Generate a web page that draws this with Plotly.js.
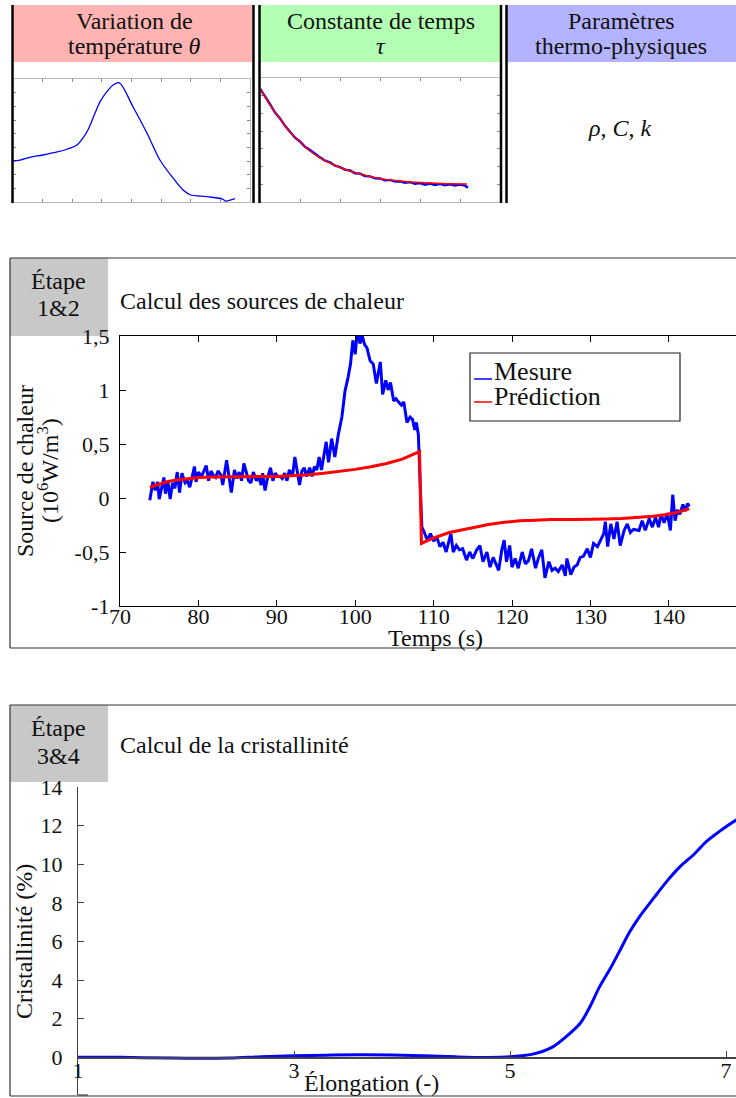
<!DOCTYPE html>
<html>
<head>
<meta charset="utf-8">
<script src="https://cdn.plot.ly/plotly-3.0.1.min.js"></script>
<style>html,body{margin:0;padding:0;background:#fff;}</style>
</head>
<body>
<div id="chart" style="width:736px;height:1098px;"></div>
<script>
// ---------- Data ----------
// Panel 1 : variation de température (unités de graduation)
const p1X = [0, 0.24, 0.57, 1.01, 1.49, 1.82, 2.16, 2.36, 2.53, 2.77, 2.94, 3.17, 3.38, 3.58, 4.05, 4.52, 4.96, 5.40, 5.74, 5.98, 6.55, 7.09, 7.16, 7.49];
const p1Y = [3.02, 3.07, 3.27, 3.44, 3.66, 3.86, 4.17, 4.68, 5.27, 6.51, 7.34, 8.07, 8.56, 8.73, 6.97, 5.05, 3.07, 1.76, 0.88, 0.53, 0.39, 0.20, 0.07, 0.24];

// Panel 2 : constante de temps
const p2MesX = [0.0,0.125,0.25,0.375,0.5,0.625,0.75,0.875,1.0,1.125,1.25,1.375,1.5,1.625,1.75,1.875,2.0,2.125,2.25,2.375,2.5,2.625,2.75,2.875,3.0,3.125,3.25,3.375,3.5,3.625,3.75,3.875,4.0,4.125,4.25,4.375,4.5,4.625,4.75,4.875,5.0,5.125,5.2];
const p2MesY = [6.40,5.98,5.52,5.05,4.72,4.30,3.99,3.63,3.42,3.12,2.93,2.70,2.52,2.33,2.24,2.05,1.97,1.83,1.78,1.62,1.60,1.47,1.45,1.34,1.33,1.22,1.25,1.15,1.17,1.08,1.12,1.03,1.07,0.98,1.04,0.96,1.02,0.95,1.00,0.93,0.98,0.92,0.80];
const p2FitX = [0.025,0.25,0.5,0.75,1.0,1.25,1.5,1.75,2.0,2.25,2.5,2.75,3.0,3.25,3.5,3.75,4.0,4.25,4.5,4.75,5.175];
const p2FitY = [6.33,5.48,4.69,3.95,3.39,2.88,2.49,2.20,1.95,1.75,1.58,1.44,1.33,1.24,1.19,1.13,1.10,1.07,1.05,1.03,1.02];

// Étape 1&2 : sources de chaleur
const tempsMesure = [73.8,74.2,74.5,74.8,75.0,75.3,75.6,75.8,76.1,76.4,76.7,77.0,77.3,77.6,77.9,78.3,78.6,78.9,79.2,79.5,79.7,80.0,80.4,80.7,81.0,81.3,81.6,81.9,82.2,82.5,82.9,83.1,83.4,83.6,83.9,84.2,84.6,84.9,85.2,85.5,85.8,86.2,86.4,86.7,87.0,87.4,87.7,88.0,88.2,88.5,88.8,89.2,89.5,89.8,90.1,90.4,90.7,91.0,91.3,91.6,92.0,92.3,92.6,92.9,93.2,93.5,93.8,94.2,94.5,94.8,95.1,95.4,95.7,96.0,96.3,96.6,97.0,97.4,97.85,98.3,98.7,99.1,99.4,99.7,100.0,100.2,100.4,100.6,100.9,101.2,101.5,101.9,102.3,102.7,103.2,103.5,103.9,104.2,104.5,104.9,105.2,105.5,105.9,106.2,106.6,107.0,107.3,107.6,107.8,108.05,108.3,108.5,108.7,108.9,109.2,109.6,110.0,110.4,110.8,111.2,111.6,112.2,112.5,112.9,113.3,113.7,114.2,114.6,115.0,115.5,115.9,116.3,116.8,117.2,117.6,118.3,118.7,119.0,119.3,119.7,120.0,120.4,120.8,121.3,121.7,122.1,122.5,123.0,123.4,123.8,124.2,124.7,125.1,125.5,125.9,126.4,126.8,127.0,127.5,127.9,128.3,128.7,129.1,129.6,130.0,130.4,130.9,131.3,131.7,131.9,132.2,132.6,133.0,133.4,133.8,134.3,134.7,135.1,135.5,136.2,136.6,137.0,137.5,137.9,138.3,138.7,139.0,139.4,139.8,140.2,140.5,140.8,141.1,141.4,141.8,142.1,142.4,142.6];
const sourceMesure = [-0.02,0.15,0.07,0.15,-0.01,0.09,0.19,0.04,0.15,-0.01,0.14,0.09,0.24,0.05,0.23,0.14,0.16,0.10,0.20,0.29,0.15,0.24,0.20,0.26,0.30,0.16,0.25,0.21,0.19,0.25,0.21,0.12,0.25,0.35,0.20,0.05,0.26,0.18,0.24,0.16,0.32,0.20,0.16,0.14,0.24,0.16,0.20,0.12,0.23,0.07,0.18,0.28,0.16,0.23,0.20,0.20,0.18,0.23,0.16,0.26,0.20,0.38,0.25,0.12,0.25,0.28,0.20,0.28,0.20,0.29,0.26,0.38,0.26,0.38,0.52,0.33,0.55,0.38,0.59,0.75,0.99,1.12,1.24,1.46,1.33,1.49,1.55,1.43,1.50,1.42,1.39,1.27,1.24,1.06,1.26,0.96,1.09,1.00,1.07,0.90,0.92,0.89,0.86,0.89,0.70,0.75,0.73,0.63,0.70,0.59,0.16,-0.27,-0.30,-0.33,-0.39,-0.33,-0.40,-0.36,-0.45,-0.41,-0.50,-0.33,-0.50,-0.44,-0.48,-0.47,-0.575,-0.50,-0.56,-0.48,-0.44,-0.59,-0.50,-0.64,-0.55,-0.67,-0.48,-0.39,-0.59,-0.44,-0.64,-0.56,-0.65,-0.50,-0.61,-0.58,-0.47,-0.65,-0.55,-0.48,-0.74,-0.59,-0.67,-0.65,-0.68,-0.62,-0.72,-0.56,-0.71,-0.64,-0.62,-0.55,-0.54,-0.47,-0.55,-0.42,-0.45,-0.39,-0.33,-0.22,-0.45,-0.24,-0.38,-0.22,-0.44,-0.30,-0.24,-0.32,-0.29,-0.30,-0.21,-0.30,-0.19,-0.27,-0.18,-0.27,-0.15,-0.23,-0.14,-0.30,0.03,-0.21,-0.11,-0.15,-0.06,-0.12,-0.05,-0.08];
const tempsPrediction = [73.8,75,76,77,78,80,82,85,88,90,92,94,96,98,100,102,104,106,107,108,108.2,108.45,110,112,113.3,115,117,119,121,123,125,128,130,132,134,136,138,139.5,141,142.6];
const sourcePrediction = [0.10,0.13,0.15,0.165,0.175,0.19,0.195,0.20,0.20,0.20,0.205,0.215,0.23,0.245,0.265,0.29,0.32,0.36,0.39,0.425,0.43,-0.42,-0.37,-0.32,-0.30,-0.27,-0.245,-0.225,-0.21,-0.205,-0.20,-0.20,-0.20,-0.195,-0.19,-0.18,-0.17,-0.155,-0.135,-0.10];
const tempsTicks = [70,80,90,100,110,120,130,140];
const sourceTicks = [-1,-0.5,0,0.5,1,1.5];
const sourceTickText = ['-1','-0,5','0','0,5','1','1,5'];

// Étape 3&4 : cristallinité
const elongation = [1.0,1.3,1.6,2.0,2.4,2.7,3.0,3.3,3.6,3.9,4.2,4.5,4.8,5.0,5.1,5.2,5.3,5.4,5.52,5.65,5.74,5.83,5.93,6.02,6.11,6.20,6.33,6.45,6.57,6.70,6.82,6.94,7.09,7.15];
const cristallinite = [0.0,0.0,-0.02,-0.05,-0.04,0.03,0.08,0.11,0.13,0.12,0.08,0.02,-0.01,0.02,0.08,0.15,0.3,0.55,1.07,1.76,2.62,3.66,4.61,5.56,6.51,7.29,8.24,9.10,9.85,10.49,11.18,11.70,12.27,12.45];
const elongTicks = [1,3,5,7];
const cristTicks = [0,2,4,6,8,10,12,14];

// ---------- Layout helpers ----------
const W = 736, H = 1098;
const PX = v => v / W;
const PY = v => 1 - v / H;
const FONT = '"Liberation Serif", "Times New Roman", "DejaVu Serif", serif';
const TXT = '#111';

const traces = [
  {x: p1X, y: p1Y, xaxis: 'x', yaxis: 'y', mode: 'lines', line: {color: '#0000ff', width: 1.3, shape: 'spline'}, showlegend: false},
  {x: p2MesX, y: p2MesY, xaxis: 'x2', yaxis: 'y2', mode: 'lines', line: {color: '#0000ff', width: 2.4}, showlegend: false},
  {x: p2FitX, y: p2FitY, xaxis: 'x2', yaxis: 'y2', mode: 'lines', line: {color: '#ff0000', width: 1.5, shape: 'spline'}, showlegend: false},
  {x: tempsMesure, y: sourceMesure, xaxis: 'x3', yaxis: 'y3', mode: 'lines', name: 'Mesure', line: {color: '#0000ff', width: 3}, showlegend: false},
  {x: tempsPrediction, y: sourcePrediction, xaxis: 'x3', yaxis: 'y3', mode: 'lines', name: 'Prédiction', line: {color: '#ff0000', width: 3}, showlegend: false},
  {x: elongation, y: cristallinite, xaxis: 'x4', yaxis: 'y4', mode: 'lines', line: {color: '#0000ff', width: 3, shape: 'spline'}, showlegend: false}
];

const smallAx = {showline: true, mirror: 'ticks', linecolor: '#b8b8b8', linewidth: 1, ticks: 'inside', ticklen: 3, tickcolor: '#888', dtick: 1, tick0: 0, showticklabels: false, showgrid: false, zeroline: false, fixedrange: true};
const tickFont = {family: FONT, size: 22, color: TXT};

const layout = {
  width: W, height: H,
  margin: {l: 0, r: 0, t: 0, b: 0},
  paper_bgcolor: '#fff', plot_bgcolor: 'rgba(0,0,0,0)',
  font: {family: FONT, size: 22, color: TXT},
  showlegend: false,
  xaxis: Object.assign({}, smallAx, {domain: [PX(13), PX(250)], range: [0, 8], anchor: 'y'}),
  yaxis: Object.assign({}, smallAx, {domain: [PY(202), PY(79)], range: [0, 9], anchor: 'x'}),
  xaxis2: Object.assign({}, smallAx, {domain: [PX(260), PX(500)], range: [0, 6], anchor: 'y2'}),
  yaxis2: Object.assign({}, smallAx, {domain: [PY(202), PY(78)], range: [0, 7], anchor: 'x2'}),
  xaxis3: {domain: [PX(120), 1], range: [70, 148.57], anchor: 'y3', showline: true, mirror: 'ticks', linecolor: '#000', linewidth: 1.2,
           ticks: 'inside', ticklen: 6, tickcolor: '#000', tickvals: tempsTicks, showgrid: false, zeroline: false,
           tickfont: tickFont, ticklabelstandoff: -10, fixedrange: true},
  yaxis3: {domain: [PY(606), PY(336)], range: [-1, 1.5], anchor: 'x3', showline: true, mirror: false, linecolor: '#000', linewidth: 1.2,
           ticks: 'inside', ticklen: 6, tickcolor: '#000', tickvals: sourceTicks, ticktext: sourceTickText, showgrid: false, zeroline: false,
           tickfont: tickFont, ticklabelstandoff: 5, fixedrange: true},
  xaxis4: {domain: [PX(78), 1], range: [1, 7.0926], anchor: 'free', position: PY(1057.3), showline: true, linecolor: '#444', linewidth: 1.2,
           ticks: 'inside', ticklen: 6, tickcolor: '#444', tickvals: elongTicks, showgrid: false, zeroline: false,
           tickfont: tickFont, ticklabelstandoff: -7, fixedrange: true},
  yaxis4: {domain: [PY(1095), PY(787)], range: [-1.955, 14], anchor: 'x4', showline: true, linecolor: '#444', linewidth: 1.2,
           ticks: 'inside', ticklen: 6, tickcolor: '#444', tickvals: cristTicks, showgrid: false, zeroline: false,
           tickfont: tickFont, ticklabelstandoff: 10, fixedrange: true},
  shapes: [],
  annotations: []
};

function rect(x0, y0, x1, y1, fill, line) {
  layout.shapes.push({type: 'rect', xref: 'paper', yref: 'paper', x0: PX(x0), x1: PX(x1), y0: PY(y1), y1: PY(y0),
    fillcolor: fill, line: line || {width: 0}, layer: 'below'});
}
function seg(x0, y0, x1, y1, color, width) {
  layout.shapes.push({type: 'line', xref: 'paper', yref: 'paper', x0: PX(x0), x1: PX(x1), y0: PY(y0), y1: PY(y1),
    line: {color: color, width: width}});
}
function note(x, y, text, opts) {
  layout.annotations.push(Object.assign({xref: 'paper', yref: 'paper', x: PX(x), y: PY(y), text: text, showarrow: false,
    xanchor: 'center', yanchor: 'middle', borderpad: 0, font: {family: FONT, size: 24, color: TXT}}, opts || {}));
}

// Top headers
rect(13, 5, 254, 62, '#ffb3b3');
rect(260, 5, 501, 62, '#b3ffb3');
rect(507, 5, 736, 62, '#b3b3ff');
[12.5, 253.5, 259.5, 501, 506.5].forEach(x => seg(x, 5, x, 203, '#000', 2.5));
note(134, 21, 'Variation de');
note(134, 46, 'température <i>θ</i>');
note(381, 21, 'Constante de temps');
note(381, 46, '<i>τ</i>');
note(621, 21, 'Paramètres');
note(621, 46, 'thermo-physiques');
note(620, 128, '<i>ρ</i>, <i>C</i>, <i>k</i>');

// Étape 1&2 block
rect(10, 258, 108, 336, '#c8c8c8');
seg(10, 258, 736, 258, '#333', 1.2);
seg(10, 258, 10, 648, '#333', 1.2);
seg(10, 648, 736, 648, '#333', 1.2);
note(58, 281, 'Étape');
note(58, 308, '1&2');
note(119, 301, 'Calcul des sources de chaleur', {xanchor: 'left'});
note(25, 471, 'Source de chaleur', {textangle: -90});
note(48, 471, '(10<sup>6</sup>W/m<sup>3</sup>)', {textangle: -90});
note(435, 638, 'Temps (s)');
// legend box
layout.shapes.push({type: 'rect', xref: 'paper', yref: 'paper', x0: PX(470), x1: PX(680), y0: PY(421), y1: PY(353),
  fillcolor: '#fff', line: {color: '#222', width: 1.2}, layer: 'above'});
seg(474, 379, 492, 379, '#0000ff', 1.5);
seg(474, 402, 492, 402, '#ff0000', 1.5);
note(493, 372, 'Mesure', {xanchor: 'left', font: {family: FONT, size: 26, color: TXT}});
note(493, 397, 'Prédiction', {xanchor: 'left', font: {family: FONT, size: 26, color: TXT}});

// Étape 3&4 block
rect(10, 705, 108, 782, '#c8c8c8');
seg(10, 705, 736, 705, '#333', 1.2);
seg(10, 705, 10, 1096, '#333', 1.2);
seg(10, 1096, 736, 1096, '#333', 1.2);
seg(78, 1095, 88, 1095, '#444', 1.2);
note(58, 728, 'Étape');
note(58, 756, '3&4');
note(119, 745, 'Calcul de la cristallinité', {xanchor: 'left'});
note(24, 942, 'Cristallinité (%)', {textangle: -90});
note(371, 1083, 'Élongation (-)');

Plotly.newPlot('chart', traces, layout, {staticPlot: true, displayModeBar: false});
</script>
</body>
</html>
